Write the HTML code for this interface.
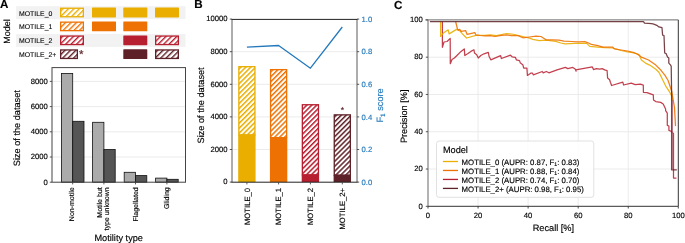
<!DOCTYPE html>
<html><head><meta charset="utf-8"><title>Figure</title>
<style>
html,body{margin:0;padding:0;background:#fff;width:685px;height:243px;overflow:hidden;}
svg{display:block;text-rendering:geometricPrecision;will-change:transform;font-family:"Liberation Sans", sans-serif;}
text{stroke-width:0.15px;paint-order:stroke;}
</style></head><body>
<svg width="685" height="243" viewBox="0 0 685 243" font-family='"Liberation Sans", sans-serif'><defs><pattern id="hY" patternUnits="userSpaceOnUse" width="3.85" height="3.85" patternTransform="rotate(45)"><rect width="3.85" height="3.85" fill="#fff"/><rect width="1.4" height="3.85" fill="#E9AE00"/></pattern><pattern id="hO" patternUnits="userSpaceOnUse" width="3.85" height="3.85" patternTransform="rotate(45)"><rect width="3.85" height="3.85" fill="#fff"/><rect width="1.4" height="3.85" fill="#EE7203"/></pattern><pattern id="hR" patternUnits="userSpaceOnUse" width="3.85" height="3.85" patternTransform="rotate(45)"><rect width="3.85" height="3.85" fill="#fff"/><rect width="1.4" height="3.85" fill="#B71E2F"/></pattern><pattern id="hM" patternUnits="userSpaceOnUse" width="3.85" height="3.85" patternTransform="rotate(45)"><rect width="3.85" height="3.85" fill="#fff"/><rect width="1.4" height="3.85" fill="#5E2127"/></pattern><pattern id="hYb" patternUnits="userSpaceOnUse" width="3.5" height="3.5" patternTransform="rotate(45)"><rect width="3.5" height="3.5" fill="#fff"/><rect width="1.5" height="3.5" fill="#E9AE00"/></pattern><pattern id="hOb" patternUnits="userSpaceOnUse" width="3.5" height="3.5" patternTransform="rotate(45)"><rect width="3.5" height="3.5" fill="#fff"/><rect width="1.5" height="3.5" fill="#EE7203"/></pattern><pattern id="hRb" patternUnits="userSpaceOnUse" width="3.5" height="3.5" patternTransform="rotate(45)"><rect width="3.5" height="3.5" fill="#fff"/><rect width="1.5" height="3.5" fill="#B71E2F"/></pattern><pattern id="hMb" patternUnits="userSpaceOnUse" width="3.5" height="3.5" patternTransform="rotate(45)"><rect width="3.5" height="3.5" fill="#fff"/><rect width="1.5" height="3.5" fill="#5E2127"/></pattern></defs>
<text x="0" y="8.1" font-size="11.6" text-anchor="start" fill="#000" stroke="#000" font-weight="bold">A</text>
<text x="9.6" y="31.4" font-size="9" text-anchor="middle" fill="#000" stroke="#000" transform="rotate(-90 9.6 31.4)">Model</text>
<rect x="16.2" y="6.2" width="169.3" height="12.9" fill="#f2f2f2" stroke="none" stroke-width="1"/>
<rect x="16.2" y="34" width="169.3" height="12.9" fill="#f2f2f2" stroke="none" stroke-width="1"/>
<text x="19" y="15.5" font-size="6.9" text-anchor="start" fill="#000" stroke="#000" style="stroke-width:0.1px">MOTILE_0</text>
<rect x="60.65" y="8.25" width="22.7" height="8.5" fill="url(#hY)" stroke="#E9AE00" stroke-width="1.3"/>
<rect x="92" y="7.6" width="24" height="9.8" fill="#E9AE00" stroke="none" stroke-width="1" rx="0.6"/>
<rect x="123.3" y="7.6" width="24" height="9.8" fill="#E9AE00" stroke="none" stroke-width="1" rx="0.6"/>
<rect x="155" y="7.6" width="24" height="9.8" fill="#E9AE00" stroke="none" stroke-width="1" rx="0.6"/>
<text x="19" y="29.4" font-size="6.9" text-anchor="start" fill="#000" stroke="#000" style="stroke-width:0.1px">MOTILE_1</text>
<rect x="60.65" y="22.15" width="22.7" height="8.5" fill="url(#hO)" stroke="#EE7203" stroke-width="1.3"/>
<rect x="92" y="21.5" width="24" height="9.8" fill="#EE7203" stroke="none" stroke-width="1" rx="0.6"/>
<rect x="123.3" y="21.5" width="24" height="9.8" fill="#EE7203" stroke="none" stroke-width="1" rx="0.6"/>
<text x="19" y="43.3" font-size="6.9" text-anchor="start" fill="#000" stroke="#000" style="stroke-width:0.1px">MOTILE_2</text>
<rect x="60.65" y="36.05" width="22.7" height="8.5" fill="url(#hR)" stroke="#B71E2F" stroke-width="1.3"/>
<rect x="123.3" y="35.4" width="24" height="9.8" fill="#B71E2F" stroke="none" stroke-width="1" rx="0.6"/>
<rect x="155.65" y="36.05" width="22.7" height="8.5" fill="url(#hR)" stroke="#B71E2F" stroke-width="1.3"/>
<text x="19" y="57.2" font-size="6.9" text-anchor="start" fill="#000" stroke="#000" style="stroke-width:0.1px">MOTILE_2+</text>
<rect x="60.65" y="49.95" width="16.7" height="8.5" fill="url(#hM)" stroke="#5E2127" stroke-width="1.3"/>
<rect x="123.3" y="49.3" width="24" height="9.8" fill="#5E2127" stroke="none" stroke-width="1" rx="0.6"/>
<rect x="155.65" y="49.95" width="22.7" height="8.5" fill="url(#hM)" stroke="#5E2127" stroke-width="1.3"/>
<text x="81.15" y="57.8" font-size="11.5" text-anchor="middle" fill="#5E2127" stroke="#5E2127">*</text>
<line x1="52" y1="157" x2="185.5" y2="157" stroke="#e6e6e6" stroke-width="0.8"/>
<line x1="52" y1="131.8" x2="185.5" y2="131.8" stroke="#e6e6e6" stroke-width="0.8"/>
<line x1="52" y1="106.6" x2="185.5" y2="106.6" stroke="#e6e6e6" stroke-width="0.8"/>
<line x1="52" y1="81.4" x2="185.5" y2="81.4" stroke="#e6e6e6" stroke-width="0.8"/>
<rect x="61.4" y="73.4" width="11.3" height="108.8" fill="#ababab" stroke="#111" stroke-width="0.8"/>
<rect x="72.7" y="121.3" width="11.3" height="60.9" fill="#555555" stroke="#111" stroke-width="0.8"/>
<rect x="92.6" y="122.3" width="11.3" height="59.9" fill="#ababab" stroke="#111" stroke-width="0.8"/>
<rect x="103.9" y="149.5" width="11.3" height="32.7" fill="#555555" stroke="#111" stroke-width="0.8"/>
<rect x="124.2" y="172.3" width="11.3" height="9.9" fill="#ababab" stroke="#111" stroke-width="0.8"/>
<rect x="135.5" y="175.6" width="11.3" height="6.6" fill="#555555" stroke="#111" stroke-width="0.8"/>
<rect x="155.6" y="178.1" width="11.3" height="4.09" fill="#ababab" stroke="#111" stroke-width="0.8"/>
<rect x="166.9" y="179.3" width="11.3" height="2.9" fill="#555555" stroke="#111" stroke-width="0.8"/>
<rect x="52" y="67.6" width="133.5" height="114.6" fill="none" stroke="#444" stroke-width="1"/>
<line x1="49.8" y1="182.2" x2="52" y2="182.2" stroke="#444" stroke-width="0.9"/>
<text x="47.8" y="184.5" font-size="7.7" text-anchor="end" fill="#000" stroke="#000">0</text>
<line x1="49.8" y1="157" x2="52" y2="157" stroke="#444" stroke-width="0.9"/>
<text x="47.8" y="159.3" font-size="7.7" text-anchor="end" fill="#000" stroke="#000">2000</text>
<line x1="49.8" y1="131.8" x2="52" y2="131.8" stroke="#444" stroke-width="0.9"/>
<text x="47.8" y="134.1" font-size="7.7" text-anchor="end" fill="#000" stroke="#000">4000</text>
<line x1="49.8" y1="106.6" x2="52" y2="106.6" stroke="#444" stroke-width="0.9"/>
<text x="47.8" y="108.9" font-size="7.7" text-anchor="end" fill="#000" stroke="#000">6000</text>
<line x1="49.8" y1="81.4" x2="52" y2="81.4" stroke="#444" stroke-width="0.9"/>
<text x="47.8" y="83.7" font-size="7.7" text-anchor="end" fill="#000" stroke="#000">8000</text>
<line x1="72.7" y1="182.2" x2="72.7" y2="184.4" stroke="#444" stroke-width="0.9"/>
<line x1="103.9" y1="182.2" x2="103.9" y2="184.4" stroke="#444" stroke-width="0.9"/>
<line x1="135.5" y1="182.2" x2="135.5" y2="184.4" stroke="#444" stroke-width="0.9"/>
<line x1="166.9" y1="182.2" x2="166.9" y2="184.4" stroke="#444" stroke-width="0.9"/>
<text x="74.3" y="187.3" font-size="7" text-anchor="end" fill="#000" stroke="#000" transform="rotate(-90 74.3 187.3)">Non-motile</text>
<text x="102" y="187.3" font-size="7" text-anchor="end" fill="#000" stroke="#000" transform="rotate(-90 102 187.3)">Motile but</text>
<text x="108.6" y="187.3" font-size="7" text-anchor="end" fill="#000" stroke="#000" transform="rotate(-90 108.6 187.3)">type unknown</text>
<text x="137.9" y="187.3" font-size="7" text-anchor="end" fill="#000" stroke="#000" transform="rotate(-90 137.9 187.3)">Flagellated</text>
<text x="169.3" y="187.3" font-size="7" text-anchor="end" fill="#000" stroke="#000" transform="rotate(-90 169.3 187.3)">Gliding</text>
<text x="118.7" y="240.9" font-size="9.2" text-anchor="middle" fill="#000" stroke="#000">Motility type</text>
<text x="20.4" y="128.2" font-size="9.2" text-anchor="middle" fill="#000" stroke="#000" transform="rotate(-90 20.4 128.2)">Size of the dataset</text>
<text x="194.2" y="8.2" font-size="11.6" text-anchor="start" fill="#000" stroke="#000" font-weight="bold">B</text>
<line x1="232" y1="149.5" x2="357" y2="149.5" stroke="#e6e6e6" stroke-width="0.8"/>
<line x1="232" y1="116.9" x2="357" y2="116.9" stroke="#e6e6e6" stroke-width="0.8"/>
<line x1="232" y1="84.3" x2="357" y2="84.3" stroke="#e6e6e6" stroke-width="0.8"/>
<line x1="232" y1="51.7" x2="357" y2="51.7" stroke="#e6e6e6" stroke-width="0.8"/>
<rect x="238.85" y="66.69" width="16.1" height="68.16" fill="url(#hYb)" stroke="#E9AE00" stroke-width="1.3"/>
<rect x="238.2" y="134.5" width="17.4" height="47.6" fill="#E9AE00" stroke="none" stroke-width="1"/>
<rect x="270.55" y="69.63" width="16.1" height="68" fill="url(#hOb)" stroke="#EE7203" stroke-width="1.3"/>
<rect x="269.9" y="137.28" width="17.4" height="44.82" fill="#EE7203" stroke="none" stroke-width="1"/>
<rect x="302.35" y="104.75" width="16.1" height="70.1" fill="url(#hRb)" stroke="#B71E2F" stroke-width="1.3"/>
<rect x="301.7" y="174.5" width="17.4" height="7.6" fill="#B71E2F" stroke="none" stroke-width="1"/>
<rect x="334.25" y="114.86" width="16.1" height="60.29" fill="url(#hMb)" stroke="#5E2127" stroke-width="1.3"/>
<rect x="333.6" y="174.8" width="17.4" height="7.3" fill="#5E2127" stroke="none" stroke-width="1"/>
<text x="342.4" y="112.9" font-size="8.6" text-anchor="middle" fill="#5E2127" stroke="#5E2127">*</text>
<polyline points="246.9,47.1 278.6,45.5 310.4,68.2 342.3,27" fill="none" stroke="#2479bd" stroke-width="1.3" stroke-linejoin="round"/>
<line x1="232" y1="19.4" x2="232" y2="182.2" stroke="#5a5a5a" stroke-width="1"/>
<line x1="357" y1="19.4" x2="357" y2="182.2" stroke="#5a5a5a" stroke-width="1"/>
<line x1="231.5" y1="19.4" x2="357.5" y2="19.4" stroke="#222" stroke-width="1"/>
<line x1="231.5" y1="182.2" x2="357.5" y2="182.2" stroke="#222" stroke-width="1"/>
<line x1="229.8" y1="182.1" x2="232" y2="182.1" stroke="#444" stroke-width="0.9"/>
<text x="227.6" y="184.4" font-size="7.7" text-anchor="end" fill="#000" stroke="#000">0</text>
<line x1="229.8" y1="149.5" x2="232" y2="149.5" stroke="#444" stroke-width="0.9"/>
<text x="227.6" y="151.8" font-size="7.7" text-anchor="end" fill="#000" stroke="#000">2000</text>
<line x1="229.8" y1="116.9" x2="232" y2="116.9" stroke="#444" stroke-width="0.9"/>
<text x="227.6" y="119.2" font-size="7.7" text-anchor="end" fill="#000" stroke="#000">4000</text>
<line x1="229.8" y1="84.3" x2="232" y2="84.3" stroke="#444" stroke-width="0.9"/>
<text x="227.6" y="86.6" font-size="7.7" text-anchor="end" fill="#000" stroke="#000">6000</text>
<line x1="229.8" y1="51.7" x2="232" y2="51.7" stroke="#444" stroke-width="0.9"/>
<text x="227.6" y="54" font-size="7.7" text-anchor="end" fill="#000" stroke="#000">8000</text>
<line x1="229.8" y1="19.1" x2="232" y2="19.1" stroke="#444" stroke-width="0.9"/>
<text x="227.6" y="21.4" font-size="7.7" text-anchor="end" fill="#000" stroke="#000">10000</text>
<line x1="357" y1="182.1" x2="359.2" y2="182.1" stroke="#444" stroke-width="0.9"/>
<text x="361.6" y="184.8" font-size="7.7" text-anchor="start" fill="#2479bd" stroke="#2479bd">0.0</text>
<line x1="357" y1="149.5" x2="359.2" y2="149.5" stroke="#444" stroke-width="0.9"/>
<text x="361.6" y="152.2" font-size="7.7" text-anchor="start" fill="#2479bd" stroke="#2479bd">0.2</text>
<line x1="357" y1="116.9" x2="359.2" y2="116.9" stroke="#444" stroke-width="0.9"/>
<text x="361.6" y="119.6" font-size="7.7" text-anchor="start" fill="#2479bd" stroke="#2479bd">0.4</text>
<line x1="357" y1="84.3" x2="359.2" y2="84.3" stroke="#444" stroke-width="0.9"/>
<text x="361.6" y="87" font-size="7.7" text-anchor="start" fill="#2479bd" stroke="#2479bd">0.6</text>
<line x1="357" y1="51.7" x2="359.2" y2="51.7" stroke="#444" stroke-width="0.9"/>
<text x="361.6" y="54.4" font-size="7.7" text-anchor="start" fill="#2479bd" stroke="#2479bd">0.8</text>
<line x1="357" y1="19.1" x2="359.2" y2="19.1" stroke="#444" stroke-width="0.9"/>
<text x="361.6" y="21.8" font-size="7.7" text-anchor="start" fill="#2479bd" stroke="#2479bd">1.0</text>
<line x1="246.9" y1="182.2" x2="246.9" y2="184.4" stroke="#444" stroke-width="0.9"/>
<line x1="278.6" y1="182.2" x2="278.6" y2="184.4" stroke="#444" stroke-width="0.9"/>
<line x1="310.4" y1="182.2" x2="310.4" y2="184.4" stroke="#444" stroke-width="0.9"/>
<line x1="342.3" y1="182.2" x2="342.3" y2="184.4" stroke="#444" stroke-width="0.9"/>
<text x="249.7" y="187.9" font-size="7.7" text-anchor="end" fill="#000" stroke="#000" transform="rotate(-90 249.7 187.9)">MOTILE_0</text>
<text x="281.4" y="187.9" font-size="7.7" text-anchor="end" fill="#000" stroke="#000" transform="rotate(-90 281.4 187.9)">MOTILE_1</text>
<text x="313.2" y="187.9" font-size="7.7" text-anchor="end" fill="#000" stroke="#000" transform="rotate(-90 313.2 187.9)">MOTILE_2</text>
<text x="345.1" y="187.9" font-size="7.7" text-anchor="end" fill="#000" stroke="#000" transform="rotate(-90 345.1 187.9)">MOTILE_2+</text>
<text x="203.8" y="105.4" font-size="9.2" text-anchor="middle" fill="#000" stroke="#000" transform="rotate(-90 203.8 105.4)">Size of the dataset</text>
<text x="383" y="105.4" font-size="9.2" text-anchor="middle" fill="#2479bd" stroke="#2479bd" transform="rotate(-90 383 105.4)">F<tspan font-size="6.4" dy="2">1</tspan><tspan dy="-2"> score</tspan></text>
<text x="394.1" y="8.6" font-size="11.6" text-anchor="start" fill="#000" stroke="#000" font-weight="bold">C</text>
<line x1="478.06" y1="19.9" x2="478.06" y2="206.3" stroke="#e6e6e6" stroke-width="0.8"/>
<line x1="428" y1="169.02" x2="678.3" y2="169.02" stroke="#e6e6e6" stroke-width="0.8"/>
<line x1="528.12" y1="19.9" x2="528.12" y2="206.3" stroke="#e6e6e6" stroke-width="0.8"/>
<line x1="428" y1="131.74" x2="678.3" y2="131.74" stroke="#e6e6e6" stroke-width="0.8"/>
<line x1="578.18" y1="19.9" x2="578.18" y2="206.3" stroke="#e6e6e6" stroke-width="0.8"/>
<line x1="428" y1="94.46" x2="678.3" y2="94.46" stroke="#e6e6e6" stroke-width="0.8"/>
<line x1="628.24" y1="19.9" x2="628.24" y2="206.3" stroke="#e6e6e6" stroke-width="0.8"/>
<line x1="428" y1="57.18" x2="678.3" y2="57.18" stroke="#e6e6e6" stroke-width="0.8"/>
<polyline points="442.4,21.5 442.4,47.3 444,42 447,41.5 450.2,38.5 450.3,63.7 452,59.6 454.4,58 457.7,54.7 461,51.4 464.3,48.9 464.8,55.5 467.6,53.8 470.9,51.4 473.9,49.7 474.5,53 476.7,54.7 478.3,58 480.8,55.5 484,53.8 488.3,52.4 489.1,56.5 490.8,59.8 500.6,55.7 501.4,58.5 510.5,55.2 512.1,56.8 515.4,57.3 516.3,59.8 519.5,60.6 520.4,63.1 522.8,64.7 523.7,68 526.9,68 527.4,75.4 531.1,73 532.5,73.2 533.3,74.8 542.3,71.5 543.2,72.8 546.4,71.5 548.9,72.8 557.1,69.9 565.4,67.4 567.8,68.6 572.8,67.4 575.2,69 576.1,71.2 575.8,69.9 592.3,66.9 593.5,69.6 596.4,68.6 599.7,69.1 602.2,68.6 604.7,69.9 607.1,70.7 607.6,78.1 609.6,79.8 610.4,82.2 611.6,85.5 622.8,82.2 623.6,85 631.2,83.2 635.3,84.7 640.4,84.2 643.3,85.2 643.4,92.3 647.1,92.6 653.3,94.8 653.5,99.9 655.8,101.6 660.7,102.4 663.2,104 665.6,109 665.6,110.6 667.3,113.1 667.3,125.4 668.9,126 668.9,130.4 670.6,131 673.5,133.5 673.5,178 676.4,178" fill="none" stroke="#B71E2F" stroke-width="1.25" stroke-linejoin="round" stroke-opacity="0.85"/>
<polyline points="440.6,21.5 440.6,36.4 443.4,33.1 448.2,29.8 449.1,33.9 456.6,29.4 459.9,30.8 462,33.4 464.5,36 466.6,38 475.9,35.4 485,35.4 490,34.8 496.6,35.6 506.5,33.5 514.7,34.5 522.9,36.5 529.5,38.1 532.8,39.4 539.4,40.6 546,40.1 555.8,41.4 560.8,43 565,43.9 574.9,43.4 586.4,43.1 589.7,46.4 597.9,47.2 604.5,47.7 612.7,48 621,50.5 627.5,51.8 634.1,53 639,54.6 641.4,60 645.5,63.1 649.7,65.1 655.8,69.2 658.9,72.3 661,76.4 663,80.5 666.1,86.7 670.2,92.9 672.4,97.5 672.5,101" fill="none" stroke="#E9AE00" stroke-width="1.25" stroke-linejoin="round" stroke-opacity="0.9"/>
<polyline points="455.6,21.5 457.5,29 458.2,30.1 459.7,29.4 461.2,31.4 465.6,30.6 467.1,34.4 474.8,32.6 475.9,34.9 480,35.5 485,35.9 490,35.6 494.9,36.5 499.9,35.6 506.5,34.8 511.4,35.6 518,35.6 522.9,37.8 529.5,37 536,36.1 541,36.5 546,39.8 552.5,39.8 559,40.1 564,41.1 571.6,41.5 578.2,41.8 584.8,41.5 588,42.8 591.3,44.4 597.9,45.6 602.9,47.2 612.7,47.2 614.4,48.9 621,50 627.5,51 633.2,52.4 637.3,54 641.4,57.1 648.6,60 655.8,65.1 661,70.3 665,75.4 668.1,80.5 670.2,86.7 671.8,91.8 674.5,107.6 675.5,126.1" fill="none" stroke="#EE7203" stroke-width="1.25" stroke-linejoin="round" stroke-opacity="0.9"/>
<polyline points="429.9,21.5 643.5,21.6 644.5,23.2 651.7,23.6 653.8,24.2 656.8,25.3 658.9,26.9 662,27.7 662.6,35.1 664,35.5 664.7,53 666.1,53.6 667.5,57.1 668.8,58.1 668.8,63.1 670.6,65.1 671.2,66.2 671.6,90.8 671.6,169.8 676.8,169.8" fill="none" stroke="#5E2127" stroke-width="1.25" stroke-linejoin="round" stroke-opacity="0.85"/>
<line x1="672.4" y1="100" x2="672.4" y2="169.8" stroke="#a85565" stroke-width="1.1" stroke-opacity="0.8"/>
<rect x="436.5" y="141" width="157.3" height="56.3" rx="2.5" fill="#fff" fill-opacity="0.85" stroke="#d9d9d9" stroke-width="0.8"/>
<text x="442.9" y="153.1" font-size="9.2" text-anchor="start" fill="#000" stroke="#000">Model</text>
<line x1="442.9" y1="161.5" x2="458" y2="161.5" stroke="#E9AE00" stroke-width="1.3"/>
<text x="461.6" y="164.6" font-size="7.8" text-anchor="start" fill="#000" stroke="#000">MOTILE_0 (AUPR: 0.87, F<tspan font-size="5.2" dy="1.5">1</tspan><tspan dy="-1.5">: 0.83)</tspan></text>
<line x1="442.9" y1="170.47" x2="458" y2="170.47" stroke="#EE7203" stroke-width="1.3"/>
<text x="461.6" y="173.57" font-size="7.8" text-anchor="start" fill="#000" stroke="#000">MOTILE_1 (AUPR: 0.88, F<tspan font-size="5.2" dy="1.5">1</tspan><tspan dy="-1.5">: 0.84)</tspan></text>
<line x1="442.9" y1="179.44" x2="458" y2="179.44" stroke="#B71E2F" stroke-width="1.3"/>
<text x="461.6" y="182.54" font-size="7.8" text-anchor="start" fill="#000" stroke="#000">MOTILE_2 (AUPR: 0.74, F<tspan font-size="5.2" dy="1.5">1</tspan><tspan dy="-1.5">: 0.70)</tspan></text>
<line x1="442.9" y1="188.41" x2="458" y2="188.41" stroke="#5E2127" stroke-width="1.3"/>
<text x="461.6" y="191.51" font-size="7.8" text-anchor="start" fill="#000" stroke="#000">MOTILE_2+ (AUPR: 0.98, F<tspan font-size="5.2" dy="1.5">1</tspan><tspan dy="-1.5">: 0.95)</tspan></text>
<line x1="428" y1="19.9" x2="428" y2="206.3" stroke="#666" stroke-width="1"/>
<line x1="425.4" y1="19.9" x2="678.3" y2="19.9" stroke="#6a6a6a" stroke-width="1"/>
<line x1="678.3" y1="19.9" x2="678.3" y2="206.3" stroke="#333" stroke-width="1"/>
<line x1="428" y1="206.3" x2="678.3" y2="206.3" stroke="#333" stroke-width="1"/>
<line x1="425.8" y1="206.3" x2="428" y2="206.3" stroke="#444" stroke-width="0.9"/>
<text x="422.9" y="208.6" font-size="7.7" text-anchor="end" fill="#000" stroke="#000">0</text>
<line x1="428" y1="206.3" x2="428" y2="208.5" stroke="#333" stroke-width="0.9"/>
<text x="428" y="217.8" font-size="7.7" text-anchor="middle" fill="#000" stroke="#000">0</text>
<line x1="425.8" y1="169.02" x2="428" y2="169.02" stroke="#444" stroke-width="0.9"/>
<text x="422.9" y="171.32" font-size="7.7" text-anchor="end" fill="#000" stroke="#000">20</text>
<line x1="478.06" y1="206.3" x2="478.06" y2="208.5" stroke="#333" stroke-width="0.9"/>
<text x="478.06" y="217.8" font-size="7.7" text-anchor="middle" fill="#000" stroke="#000">20</text>
<line x1="425.8" y1="131.74" x2="428" y2="131.74" stroke="#444" stroke-width="0.9"/>
<text x="422.9" y="134.04" font-size="7.7" text-anchor="end" fill="#000" stroke="#000">40</text>
<line x1="528.12" y1="206.3" x2="528.12" y2="208.5" stroke="#333" stroke-width="0.9"/>
<text x="528.12" y="217.8" font-size="7.7" text-anchor="middle" fill="#000" stroke="#000">40</text>
<line x1="425.8" y1="94.46" x2="428" y2="94.46" stroke="#444" stroke-width="0.9"/>
<text x="422.9" y="96.76" font-size="7.7" text-anchor="end" fill="#000" stroke="#000">60</text>
<line x1="578.18" y1="206.3" x2="578.18" y2="208.5" stroke="#333" stroke-width="0.9"/>
<text x="578.18" y="217.8" font-size="7.7" text-anchor="middle" fill="#000" stroke="#000">60</text>
<line x1="425.8" y1="57.18" x2="428" y2="57.18" stroke="#444" stroke-width="0.9"/>
<text x="422.9" y="59.48" font-size="7.7" text-anchor="end" fill="#000" stroke="#000">80</text>
<line x1="628.24" y1="206.3" x2="628.24" y2="208.5" stroke="#333" stroke-width="0.9"/>
<text x="628.24" y="217.8" font-size="7.7" text-anchor="middle" fill="#000" stroke="#000">80</text>
<line x1="425.8" y1="19.9" x2="428" y2="19.9" stroke="#444" stroke-width="0.9"/>
<text x="422.9" y="22.2" font-size="7.7" text-anchor="end" fill="#000" stroke="#000">100</text>
<line x1="678.3" y1="206.3" x2="678.3" y2="208.5" stroke="#333" stroke-width="0.9"/>
<text x="678.3" y="217.8" font-size="7.7" text-anchor="middle" fill="#000" stroke="#000">100</text>
<text x="553.4" y="230.5" font-size="9.2" text-anchor="middle" fill="#000" stroke="#000">Recall [%]</text>
<text x="407.3" y="116.3" font-size="9.2" text-anchor="middle" fill="#000" stroke="#000" transform="rotate(-90 407.3 116.3)">Precision [%]</text>
</svg>
</body></html>
